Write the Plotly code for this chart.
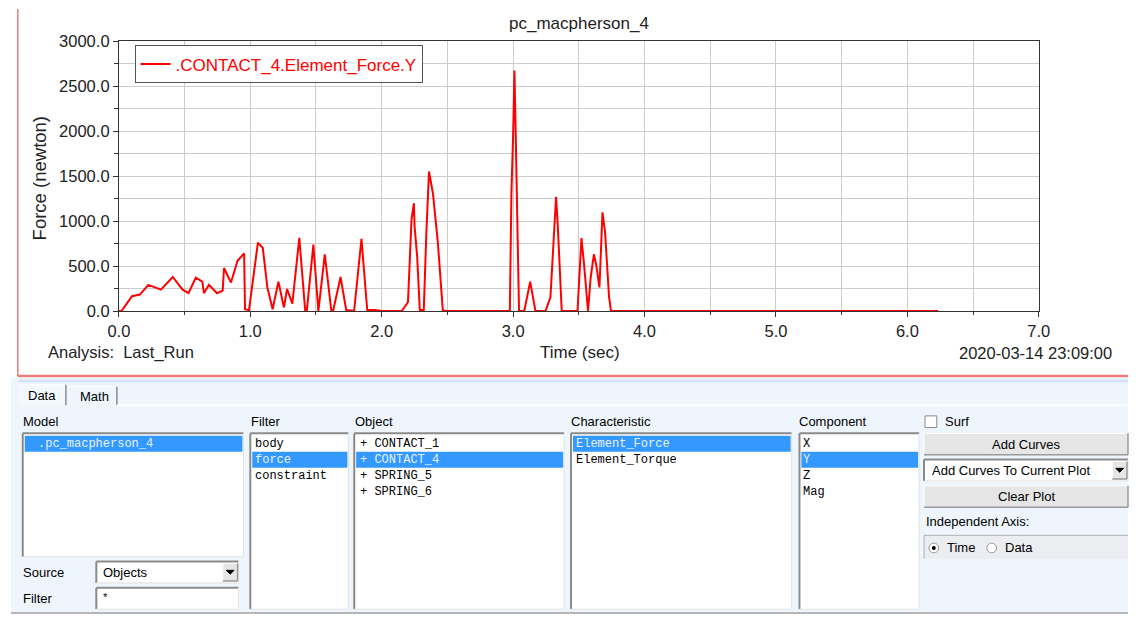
import plotly.graph_objects as go

W, H = 1139, 623

# ---------------- data ----------------
time_s = [0.0, 0.02, 0.1, 0.16, 0.224, 0.32, 0.41, 0.485, 0.53, 0.585, 0.635, 0.647, 0.685,
          0.747, 0.79, 0.80, 0.853, 0.903, 0.953, 0.96, 0.99, 1.058, 1.095, 1.13, 1.17, 1.214,
          1.256, 1.28, 1.32, 1.373, 1.418, 1.43, 1.48, 1.518, 1.567, 1.617, 1.63, 1.687, 1.73,
          1.79, 1.846, 1.89, 1.95, 2.0, 2.153, 2.2, 2.227, 2.245, 2.25, 2.27, 2.29, 2.32, 2.34,
          2.36, 2.39, 2.427, 2.465, 2.49, 2.975, 2.987, 3.0, 3.01, 3.02, 3.035, 3.045, 3.085,
          3.13, 3.17, 3.247, 3.284, 3.31, 3.327, 3.34, 3.36, 3.37, 3.49, 3.51, 3.52, 3.54, 3.57,
          3.59, 3.615, 3.632, 3.657, 3.67, 3.68, 3.70, 3.73, 3.745, 6.236]
force_y = [0, 0, 165, 183, 291, 237, 378, 237, 198, 370, 327, 198, 291,
           198, 227, 478, 316, 558, 640, 20, 10, 759, 701, 262, 20, 327,
           40, 245, 83, 813, 0, 0, 737, 0, 630, 0, 0, 378, 10,
           0, 802, 10, 10, 0, 0, 100, 1018, 1198, 946, 604, 10, 10, 874,
           1550, 1306, 766, 10, 0, 0, 1306, 1953, 2673, 1953, 694, 0, 0,
           327, 0, 0, 155, 802, 1270, 946, 227, 0, 0, 622, 810, 515, 0,
           370, 630, 515, 262, 730, 1097, 874, 155, 0, 0]

series_name = ".CONTACT_4.Element_Force.Y"
x_ticks = [0, 1, 2, 3, 4, 5, 6, 7]
y_ticks = [0, 500, 1000, 1500, 2000, 2500, 3000]

model_items = [".pc_macpherson_4"]
filter_items = ["body", "force", "constraint"]
object_items = ["+ CONTACT_1", "+ CONTACT_4", "+ SPRING_5", "+ SPRING_6"]
char_items = ["Element_Force", "Element_Torque"]
comp_items = ["X", "Y", "Z", "Mag"]


def px(x):
    return x / W


def py(y):
    return 1 - y / H


shapes = []
annotations = []

SANS = "Liberation Sans"
MONO = "Liberation Mono"
SEL = "#3399ff"


def rect(x0, y0, x1, y1, fill=None, line=None, lw=1):
    shapes.append(dict(type="rect", xref="paper", yref="paper",
                       x0=px(x0), x1=px(x1), y0=py(y1), y1=py(y0),
                       fillcolor=fill if fill else "rgba(0,0,0,0)",
                       line=dict(color=line if line else "rgba(0,0,0,0)", width=lw if line else 0)))


def seg(x0, y0, x1, y1, color, lw=1):
    shapes.append(dict(type="line", xref="paper", yref="paper",
                       x0=px(x0), x1=px(x1), y0=py(y0), y1=py(y1),
                       line=dict(color=color, width=lw)))


def text(x, y, s, size=13, color="#000000", family=SANS, anchor="left", angle=0):
    annotations.append(dict(xref="paper", yref="paper", x=px(x), y=py(y), text=s,
                            showarrow=False, xanchor=anchor, yanchor="middle",
                            textangle=angle, borderpad=0,
                            font=dict(family=family, size=size, color=color)))


def sunken(x0, y0, x1, y1, fill="white"):
    rect(x0, y0, x1, y1, fill=fill)
    seg(x0, y0, x1, y0, "#8a8a8a", 2)
    seg(x0, y0, x0, y1, "#8a8a8a", 2)
    seg(x0, y1, x1, y1, "#e2e2e2", 1)
    seg(x1, y0, x1, y1, "#e2e2e2", 1)


def button(x0, y0, x1, y1, label=None):
    rect(x0, y0, x1, y1, fill="#e6e6e6")
    seg(x0, y0, x1, y0, "#ffffff", 1)
    seg(x0, y0, x0, y1, "#ffffff", 1)
    seg(x0, y1, x1, y1, "#9a9a9a", 1.5)
    seg(x1, y0, x1, y1, "#9a9a9a", 1.5)
    if label:
        text((x0 + x1) / 2, (y0 + y1) / 2, label, size=13, anchor="center")


def arrow_btn(x0, y0, x1, y1):
    button(x0, y0, x1, y1)
    cx, cy = (x0 + x1) / 2, (y0 + y1) / 2
    shapes.append(dict(type="path", xref="paper", yref="paper",
                       path=f"M {px(cx-4)},{py(cy-2)} L {px(cx+4)},{py(cy-2)} L {px(cx)},{py(cy+2)} Z",
                       fillcolor="#000", line=dict(color="#000", width=1)))


def listbox(x0, y0, x1, y1, items, sel, tx):
    sunken(x0, y0, x1, y1)
    for i, it in enumerate(items):
        yc = 448 + i * 16.5
        if i == sel:
            rect(x0 + 2, yc - 8.5, x1 - 1, yc + 8, fill=SEL)
        text(tx, yc, it, size=12, family=MONO,
             color="#eaf2ff" if i == sel else "#000000")


# ---------------- top plot frame ----------------
seg(7, 0, 7, 378, "#d83a3a", 1)
seg(7, 378, W, 378, "#f07c7c", 2.5)

# ---------------- lower panel ----------------
rect(0, 380, W, H, fill="#eef5fc")
seg(8, 383, W, 383, "#d3e4f5", 3)
# tabs
rect(8, 387, 56, 408, fill="#f3f8fd")
seg(8, 387, 56, 387, "#ffffff", 1)
seg(56, 387, 56, 408, "#8a8a8a", 1.5)
rect(57, 389, 108, 408, fill="#eef5fc")
seg(57, 389, 108, 389, "#ffffff", 1)
seg(108, 389, 108, 408, "#8a8a8a", 1.5)
seg(108, 408, W, 408, "#fbfdff", 2)
text(16, 398, "Data", size=13)
text(69, 399, "Math", size=13)

# labels
text(11, 425, "Model")
text(244, 425, "Filter")
text(350, 425, "Object")
text(570, 425, "Characteristic")
text(803, 425, "Component")
text(951, 425, "Surf")
text(11, 580, "Source")
text(11, 607, "Filter")
text(932, 528, "Independent Axis:")

listbox(12, 437, 237, 564, model_items, 0, 27)
listbox(244, 437, 344, 618, filter_items, 1, 248)
listbox(350, 437, 564, 618, object_items, 1, 355)
listbox(571, 437, 796, 618, char_items, 0, 575)
listbox(804, 437, 926, 618, comp_items, 1, 807)

# source dropdown + filter field
sunken(87, 569, 232, 591)
arrow_btn(216, 571, 231, 589)
text(93, 580, "Objects", size=13)
sunken(87, 596, 232, 618)
text(93, 605, "*", size=11)

# right column controls
rect(932, 419, 944, 431, fill="white", line="#8a8a8a", lw=1)
button(931, 437, 1139, 459, "Add Curves")
sunken(931, 464, 1139, 486)
arrow_btn(1123, 466, 1138, 484)
text(938, 475, "Add Curves To Current Plot", size=13)
button(931, 491, 1139, 513, "Clear Plot")
rect(931, 542, 1139, 566, fill="#ebedf0")
seg(931, 542, 1139, 542, "#b0b0b0", 1)
seg(931, 542, 931, 566, "#b0b0b0", 1)
for cx, on in [(941, True), (1000, False)]:
    shapes.append(dict(type="circle", xref="paper", yref="paper",
                       x0=px(cx - 5), x1=px(cx + 5), y0=py(560), y1=py(550),
                       fillcolor="white", line=dict(color="#9a9a9a", width=1)))
    if on:
        shapes.append(dict(type="circle", xref="paper", yref="paper",
                           x0=px(cx - 2), x1=px(cx + 2), y0=py(557), y1=py(553),
                           fillcolor="#000", line=dict(color="#000", width=0)))
text(953, 555, "Time", size=13)
text(1013, 555, "Data", size=13)
seg(0, 622, W, 622, "#a0a0a0", 1.5)

# ---------------- plot texts ----------------
text(579, 15, "pc_macpherson_4", size=17, color="#222222", anchor="center")
text(30, 174, "Force (newton)", size=18.5, color="#222222", anchor="center", angle=-90)
text(580, 354, "Time (sec)", size=17, color="#222222", anchor="center")
text(37, 354, "Analysis:&nbsp; Last_Run", size=16.5, color="#222222")
text(1124, 354, "2020-03-14 23:09:00", size=16.5, color="#222222", anchor="right")

fig = go.Figure()
fig.add_trace(go.Scatter(x=time_s, y=force_y, mode="lines", name=series_name,
                         line=dict(color="#ff0000", width=2), showlegend=True))

axis_common = dict(showline=True, linecolor="#333333", linewidth=1, mirror=True,
                   ticks="outside", tickcolor="#333333", ticklen=5,
                   showgrid=True, gridcolor="#cccccc", gridwidth=1, zeroline=False,
                   tickformat=".1f",
                   tickfont=dict(family=SANS, size=16.5, color="#222222"))

fig.update_layout(
    width=W, height=H,
    margin=dict(l=0, r=0, t=0, b=0),
    paper_bgcolor="white", plot_bgcolor="white",
    xaxis=dict(domain=[px(110), px(1048)], range=[0, 7], tickvals=x_ticks,
               minor=dict(dtick=0.5, showgrid=True, gridcolor="#cccccc", ticks="outside",
                          ticklen=3, tickcolor="#333333"),
               **axis_common),
    yaxis=dict(domain=[py(311), py(33)], range=[0, 3000], tickvals=y_ticks,
               minor=dict(dtick=250, showgrid=True, gridcolor="#cccccc", ticks="outside",
                          ticklen=4, tickcolor="#333333"),
               **axis_common),
    legend=dict(x=px(126), y=py(37.5), xanchor="left", yanchor="top",
                bgcolor="white", bordercolor="#555555", borderwidth=1,
                font=dict(family=SANS, size=17, color="#ff0000"),
                itemwidth=30, tracegroupgap=0),
    shapes=shapes,
    annotations=annotations,
)

fig.write_html("out.html")
